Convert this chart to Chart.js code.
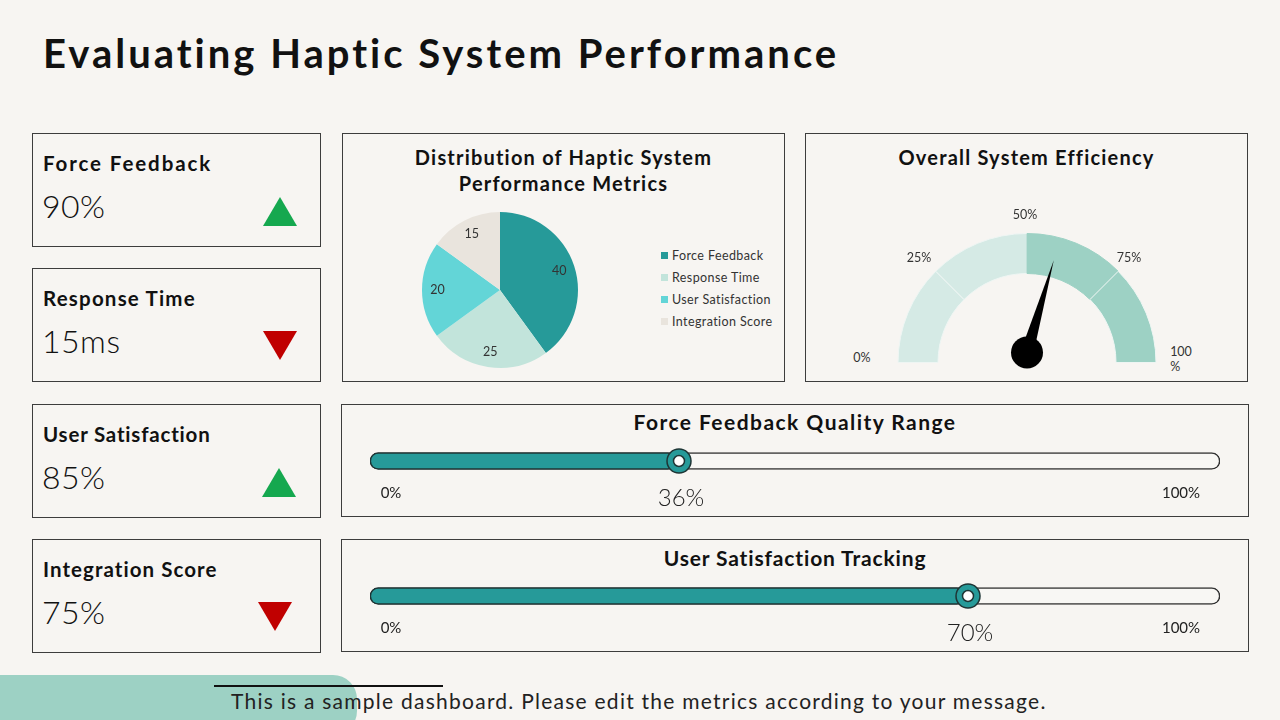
<!DOCTYPE html>
<html><head><meta charset="utf-8">
<script src="https://cdn.jsdelivr.net/npm/chart.js@4.4.0/dist/chart.umd.min.js"></script>
<style>
html,body{margin:0;padding:0;background:#f7f5f2;}
body{width:1280px;height:720px;position:relative;overflow:hidden;font-family:Lato,'Open Sans',sans-serif;color:#111;}
.card{position:absolute;border:1.5px solid #3d3d3d;box-sizing:border-box;}
.t{position:absolute;white-space:nowrap;line-height:1;}
.kt{font-weight:700;font-size:20.5px;}
.kv{font-weight:300;font-size:32px;letter-spacing:0.5px;}
.ct{position:absolute;left:0;right:0;text-align:center;font-weight:700;font-size:20px;line-height:26px;letter-spacing:1.2px;}
.st{font-size:21px;}
.leg{position:absolute;font-size:12.5px;color:#333;line-height:14px;letter-spacing:0.4px;white-space:nowrap;}
.leg span{display:inline-block;width:7px;height:7px;margin-right:4px;vertical-align:1px;}
.gl{position:absolute;font-size:12.5px;color:#333;transform:translate(-50%,-50%);white-space:nowrap;}
canvas{position:absolute;}
</style></head>
<body>
<div class="t" style="left:43px;top:33px;font-size:40px;font-weight:700;letter-spacing:3px;">Evaluating Haptic System Performance</div>

<div id="kpis"></div>

<div class="card" style="left:342px;top:133px;width:443px;height:249px;">
  <div class="ct" style="top:10px;">Distribution of Haptic System<br>Performance Metrics</div>
</div>
<canvas id="pie" width="160" height="160" style="left:420px;top:210px;"></canvas>
<div id="legend"></div>

<div class="card" style="left:805px;top:133px;width:443px;height:249px;">
  <div class="ct" style="top:10px;">Overall System Efficiency</div>
</div>
<canvas id="gauge" width="280" height="160" style="left:887px;top:223px;"></canvas>
<div id="gaugeLabels"></div>

<div class="card" style="left:341px;top:404px;width:908px;height:113px;">
  <div class="ct st" id="st1" style="top:4px;letter-spacing:1.45px;"></div>
</div>
<canvas id="s1" width="870" height="71" style="left:360px;top:441px;"></canvas>

<div class="card" style="left:341px;top:539px;width:908px;height:113px;">
  <div class="ct st" id="st2" style="top:5px;letter-spacing:0.85px;"></div>
</div>
<canvas id="s2" width="870" height="71" style="left:360px;top:576px;"></canvas>

<div style="position:absolute;left:0;top:675px;width:357px;height:60px;background:#9dd1c4;border-radius:0 24px 24px 0;"></div>
<div style="position:absolute;left:214px;top:685px;width:229px;height:2px;background:#111;"></div>
<div class="t" style="left:231px;top:690px;font-size:21px;color:#222;letter-spacing:1.25px;">This is a sample dashboard. Please edit the metrics according to your message.</div>

<script>
// ---- data ----
const kpiNames = ['Force Feedback','Response Time','User Satisfaction','Integration Score'];
const kpiValues = ['90%','15ms','85%','75%'];
const kpiTrend = ['up','down','up','down'];

const pieCategories = ['Force Feedback','Response Time','User Satisfaction','Integration Score'];
const pieValues = [40,25,20,15];
const pieColors = ['#269a99','#c2e4db','#63d5d7','#e9e4dd'];

const gaugeSegments = [25,25,25,25];
const gaugeColors = ['#d5eae5','#d5eae5','#9dd1c4','#9dd1c4'];
const gaugeTicks = ['0%','25%','50%','75%','100%'];
const gaugeNeedle = 59;

const sliderTitles = ['Force Feedback Quality Range','User Satisfaction Tracking'];
const sliderValues = [36,70];
const sliderMax = 100;
const sliderTicks = ['0%','100%'];

const teal = '#269a99';

document.getElementById('st1').textContent = sliderTitles[0];
document.getElementById('st2').textContent = sliderTitles[1];

// ---- KPI cards (layout) ----
const kpiTops = [133,268,404,539];
const kpiSpacing = [1.9,1.2,0.8,1.05];
const triPos = [[263,197],[263,331],[262,468],[258,602]];
let html='';
kpiNames.forEach((n,i)=>{
  const top=kpiTops[i];
  html += `<div class="card" style="left:32px;top:${top}px;width:289px;height:114px;"></div>`;
  html += `<div class="t kt" style="left:43px;top:${top+20}px;letter-spacing:${kpiSpacing[i]}px;">${n}</div>`;
  html += `<div class="t kv" style="left:42px;top:${top+57}px;">${kpiValues[i]}</div>`;
  const [x,y]=triPos[i];
  const pts = kpiTrend[i]==='up' ? '0,29 34,29 17,0' : '0,0 34,0 17,29';
  const col = kpiTrend[i]==='up' ? '#15a84f' : '#c00000';
  html += `<svg style="position:absolute;left:${x}px;top:${y}px" width="34" height="29"><polygon points="${pts}" fill="${col}"/></svg>`;
});
document.getElementById('kpis').innerHTML = html;

// legend
let lg='';
pieCategories.forEach((c,i)=>{
  lg += `<div class="leg" style="left:661px;top:${249+i*22}px;"><span style="background:${pieColors[i]}"></span>${c}</div>`;
});
document.getElementById('legend').innerHTML = lg;

// gauge tick labels (last one wraps in its narrow text box, as in the original)
const glPos = [[862,357],[919,257],[1025,214],[1129,257],[1181,359]];
let gl='';
gaugeTicks.forEach((t,i)=>{
  const [x,y]=glPos[i];
  if(i===gaugeTicks.length-1){
    gl += `<div class="gl" style="left:${x}px;top:${y}px;line-height:15px;text-align:left;">${t.slice(0,-1)}<br>${t.slice(-1)}</div>`;
  } else gl += `<div class="gl" style="left:${x}px;top:${y}px;">${t}</div>`;
});
document.getElementById('gaugeLabels').innerHTML = gl;

const FONT = 'Lato';

// ---- pie ----
const pieLabelPlugin = {
  id:'pieLabels',
  afterDatasetsDraw(chart){
    const ctx=chart.ctx, meta=chart.getDatasetMeta(0);
    ctx.save();
    ctx.font='12.5px '+FONT; ctx.fillStyle='#333'; ctx.textAlign='center'; ctx.textBaseline='middle';
    meta.data.forEach((arc,i)=>{
      const p=arc.getProps(['x','y','startAngle','endAngle','outerRadius'],true);
      const a=(p.startAngle+p.endAngle)/2, r=p.outerRadius*0.8;
      ctx.fillText(String(chart.data.datasets[0].data[i]), p.x+Math.cos(a)*r, p.y+Math.sin(a)*r);
    });
    ctx.restore();
  }
};
new Chart(document.getElementById('pie'),{
  type:'pie',
  data:{labels:pieCategories,datasets:[{data:pieValues,backgroundColor:pieColors,borderWidth:0}]},
  options:{responsive:false,animation:false,events:[],layout:{padding:2},
    plugins:{legend:{display:false},tooltip:{enabled:false}}},
  plugins:[pieLabelPlugin]
});

// ---- gauge ----
const needlePlugin = {
  id:'needle',
  afterDatasetsDraw(chart){
    const ctx=chart.ctx, arc=chart.getDatasetMeta(0).data[0];
    const total=chart.data.datasets[0].data.reduce((a,b)=>a+b,0);
    const cx=arc.x, cy=arc.y-10;
    const ang=Math.PI+(gaugeNeedle/total)*Math.PI;
    const len=96, w=6.5;
    const tx=cx+Math.cos(ang)*len, ty=cy+Math.sin(ang)*len;
    const px=Math.cos(ang+Math.PI/2)*w, py=Math.sin(ang+Math.PI/2)*w;
    ctx.save();
    ctx.fillStyle='#000';
    ctx.beginPath(); ctx.moveTo(cx+px,cy+py); ctx.lineTo(tx,ty); ctx.lineTo(cx-px,cy-py); ctx.closePath(); ctx.fill();
    ctx.beginPath(); ctx.arc(cx,cy,16,0,Math.PI*2); ctx.fill();
    ctx.restore();
  }
};
new Chart(document.getElementById('gauge'),{
  type:'doughnut',
  data:{labels:gaugeTicks.slice(0,4),datasets:[{data:gaugeSegments,backgroundColor:gaugeColors,borderColor:['#eef5f3','#eef5f3','#9dd1c4','#eef5f3'],borderWidth:1}]},
  options:{responsive:false,animation:false,events:[],rotation:-90,circumference:180,cutout:'69%',
    layout:{padding:{left:10,right:10,top:10,bottom:20}},
    plugins:{legend:{display:false},tooltip:{enabled:false}}},
  plugins:[needlePlugin]
});

// ---- sliders ----
const sliderPlugin = {
  id:'slider',
  afterDatasetsDraw(chart){
    const ctx=chart.ctx, xs=chart.scales.x;
    const v=chart.data.datasets[0].data[0];
    const bar=chart.getDatasetMeta(0).data[0];
    const x=xs.getPixelForValue(v)+3, y=bar.y;
    ctx.save();
    ctx.lineWidth=1.5; ctx.strokeStyle='#1e3535';
    ctx.beginPath(); ctx.arc(x,y,12,0,Math.PI*2); ctx.fillStyle=teal; ctx.fill(); ctx.stroke();
    ctx.beginPath(); ctx.arc(x,y,5.5,0,Math.PI*2); ctx.fillStyle='#fff'; ctx.fill(); ctx.stroke();
    ctx.fillStyle='#222'; ctx.textAlign='center'; ctx.textBaseline='middle';
    ctx.font='300 24px '+FONT;
    ctx.fillText(v+'%', x+2, y+37);
    ctx.font='15px '+FONT;
    ctx.fillText(sliderTicks[0], xs.getPixelForValue(0)+21, y+32);
    ctx.fillText(sliderTicks[1], xs.getPixelForValue(sliderMax)-39, y+32);
    ctx.restore();
  }
};
function slider(id,val){
  new Chart(document.getElementById(id),{
    type:'bar',
    data:{labels:[''],datasets:[
      {data:[val],backgroundColor:teal,borderColor:'#1e3535',borderWidth:1.5,borderRadius:9,borderSkipped:false,barThickness:17,grouped:false},
      {data:[sliderMax],backgroundColor:'#f8f7f4',borderColor:'#333',borderWidth:1.5,borderRadius:9,borderSkipped:false,barThickness:17,grouped:false}
    ]},
    options:{indexAxis:'y',responsive:false,animation:false,events:[],
      layout:{padding:{left:10,right:10,top:4,bottom:35}},
      scales:{x:{min:0,max:sliderMax,display:false},y:{display:false}},
      plugins:{legend:{display:false},tooltip:{enabled:false}}},
    plugins:[sliderPlugin]
  });
}
slider('s1',sliderValues[0]);
slider('s2',sliderValues[1]);
</script>
</body></html>
